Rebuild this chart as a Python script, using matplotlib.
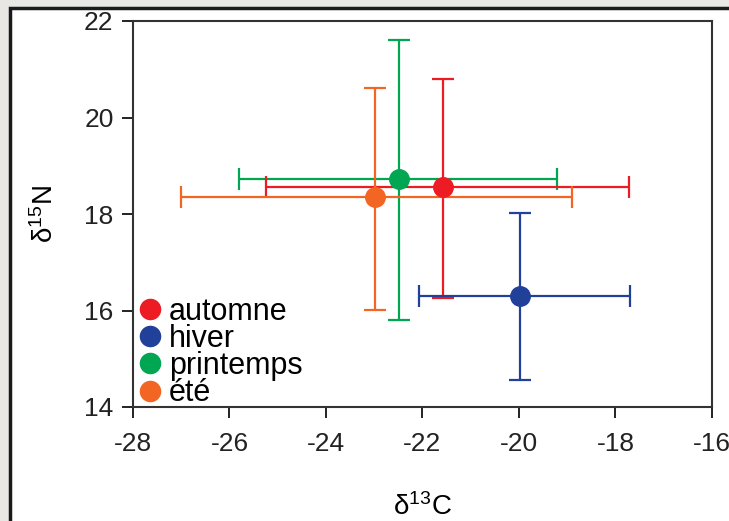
import matplotlib
matplotlib.use("Agg")
import matplotlib.pyplot as plt
from matplotlib.lines import Line2D
from matplotlib.patches import Rectangle

plt.rcParams['font.family'] = ['Liberation Sans', 'DejaVu Sans']
plt.rcParams['mathtext.fontset'] = 'custom'
plt.rcParams['mathtext.rm'] = 'Liberation Sans'
plt.rcParams['mathtext.default'] = 'regular'
plt.rcParams['axes.unicode_minus'] = False

seasons = ['automne', 'hiver', 'printemps', 'été']
colors = ['#ed1c24', '#21409a', '#00a651', '#f26522']
x_mean = [-21.58, -19.98, -22.49, -22.98]
y_mean = [18.56, 16.30, 18.73, 18.35]
x_low = [-25.24, -22.07, -25.80, -27.00]
x_high = [-17.72, -17.70, -19.21, -18.90]
y_low = [16.26, 14.56, 15.80, 16.01]
y_high = [20.80, 18.02, 21.61, 20.61]
x_ticks = [-28, -26, -24, -22, -20, -18, -16]
y_ticks = [14, 16, 18, 20, 22]

fig = plt.figure(figsize=(7.29, 5.21), dpi=100)
fig.patch.set_facecolor('#e9e7e4')
bg = Rectangle((10/729, -0.01), 1.0, 1.01 - 8/521, transform=fig.transFigure,
               facecolor='white', edgecolor='#1a1a1a', lw=2.5, zorder=-10)
fig.add_artist(bg)
ax = fig.add_axes([133/729, 114/521, (712-133)/729, (407-21)/521])
ax.set_zorder(5)

order = [2, 0, 3, 1]
for i in order:
    xe = [[x_mean[i] - x_low[i]], [x_high[i] - x_mean[i]]]
    ye = [[y_mean[i] - y_low[i]], [y_high[i] - y_mean[i]]]
    ax.errorbar([x_mean[i]], [y_mean[i]], xerr=xe, yerr=ye, fmt='o', color=colors[i],
                ecolor=colors[i], elinewidth=1.6, capsize=8, capthick=1.6,
                markersize=14, zorder=3)

ax.set_xlim(-28, -16)
ax.set_ylim(14, 22)
ax.set_xticks(x_ticks)
ax.set_yticks(y_ticks)
ax.tick_params(axis='both', direction='out', length=8, width=1.4, labelsize=19,
               colors='#222222', pad=6)
ax.tick_params(axis='x', pad=10)
for s in ax.spines.values():
    s.set_linewidth(1.5)
    s.set_color('#333333')

ax.set_xlabel('δ$^{13}$C', fontsize=20, labelpad=27)
ax.set_ylabel('δ$^{15}$N', fontsize=20, labelpad=18)

handles = [Line2D([], [], marker='o', linestyle='none', color=c, markersize=14.5) for c in colors]
ax.legend(handles, seasons, loc='lower left', bbox_to_anchor=(-0.012, -0.035), frameon=False,
          fontsize=22, handlelength=0.75, handletextpad=0.25, labelspacing=-0.09,
          borderaxespad=0.2, borderpad=0.2)

fig.savefig('out.png', dpi=100, facecolor=fig.get_facecolor())
